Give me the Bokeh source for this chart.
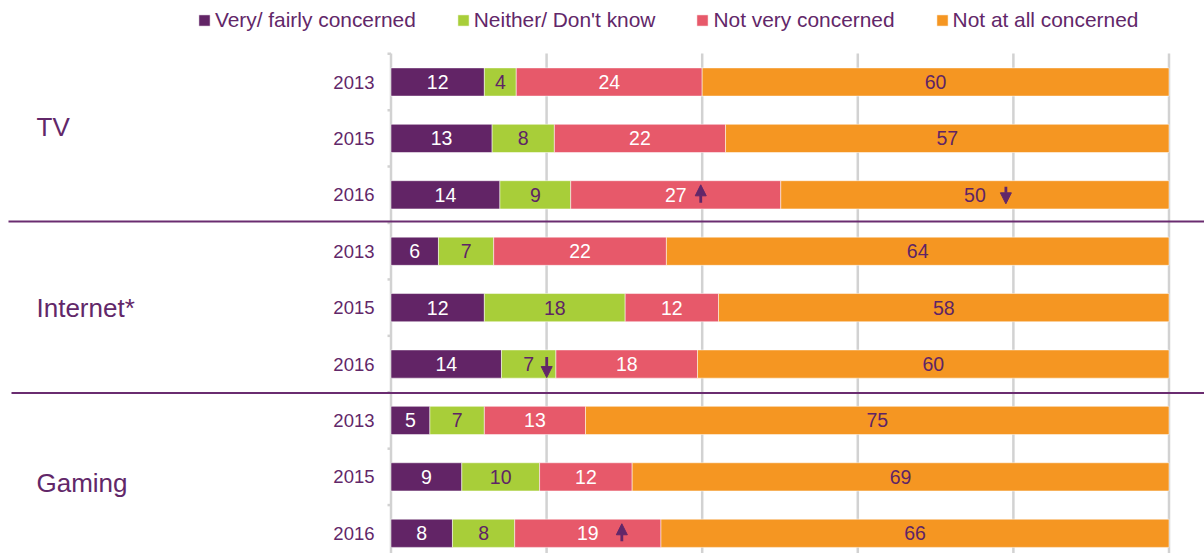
import numpy as np
from bokeh.plotting import figure
from bokeh.models import ColumnDataSource, Range1d, Legend, LegendItem, Arrow, NormalHead
from bokeh.core.properties import value
from bokeh.embed import file_html
from bokeh.resources import INLINE

# ---------------- data ----------------
groups = ["TV", "Internet*", "Gaming"]
years = ["2013", "2015", "2016", "2013", "2015", "2016", "2013", "2015", "2016"]
series = ["Very/ fairly concerned", "Neither/ Don't know", "Not very concerned", "Not at all concerned"]

# segment lengths (% of respondents)
very = [12.0, 13.0, 14.0, 6.1, 12.0, 14.2, 5.0, 9.1, 7.9]
neither = [4.1, 8.0, 9.1, 7.1, 18.1, 7.0, 7.0, 10.0, 8.0]
notvery = [23.9, 22.0, 27.0, 22.2, 12.0, 18.2, 13.0, 11.9, 18.8]
notatall = [60.0, 57.0, 49.9, 64.6, 57.9, 60.6, 75.0, 69.0, 65.3]

# printed (rounded) labels
very_lbl = ["12", "13", "14", "6", "12", "14", "5", "9", "8"]
neither_lbl = ["4", "8", "9", "7", "18", "7", "7", "10", "8"]
notvery_lbl = ["24", "22", "27", "22", "12", "18", "13", "12", "19"]
notatall_lbl = ["60", "57", "50", "64", "58", "60", "75", "69", "66"]

# significant change markers: row index, series index, direction
arrow_rows = [2, 2, 5, 8]
arrow_series = [2, 3, 1, 2]
arrow_dirs = ["up", "down", "down", "up"]

x_ticks = [0, 20, 40, 60, 80, 100]

# ---------------- styles / layout ----------------
COLORS = ["#622466", "#A8CE39", "#E7596A", "#F59622"]
LBL_COLORS = ["white", "#5E2466", "white", "#5E2466"]
TEXT = "#622769"
SEP = "#6A2C70"
GRID = "#D2D2D2"
FONT_NAME = "Liberation Sans"
FONT = value(FONT_NAME)

W, H = 1204, 553
PX_X = 7.78           # px per percentage unit
PX_Y = 56.41          # px per row
X_ZERO_PX = 390.5     # screen x of 0 %
ROW0_PX = 81.5        # screen y of first row centre
x0 = -X_ZERO_PX / PX_X
x1 = x0 + W / PX_X
ytop = -ROW0_PX / PX_Y
ybot = (H - ROW0_PX) / PX_Y

p = figure(width=W, height=H, x_range=Range1d(x0, x1), y_range=Range1d(ybot, ytop),
           output_backend="svg", toolbar_location=None, min_border=0,
           x_axis_location=None, y_axis_location=None, outline_line_color=None)
p.xgrid.visible = False
p.ygrid.visible = False
p.background_fill_color = "white"

rows = list(range(len(years)))

# grid lines and axis ticks
p.segment(x0=x_ticks, y0=[-0.505] * len(x_ticks), x1=x_ticks, y1=[ybot] * len(x_ticks),
          line_color=GRID, line_width=2.5)
tick_y = [r + 0.5 for r in range(-1, len(years) - 1)]
p.segment(x0=[-0.45] * len(tick_y), y0=tick_y, x1=[0] * len(tick_y), y1=tick_y,
          line_color=GRID, line_width=2.5)

# stacked bars
vals = [very, neither, notvery, notatall]
lbls = [very_lbl, neither_lbl, notvery_lbl, notatall_lbl]
cum = np.cumsum(np.array(vals), axis=0)
lefts = np.vstack([np.zeros(len(rows)), cum[:-1]])
renderers = []
centers = []
for k in range(4):
    src = ColumnDataSource(dict(row=rows, left=lefts[k], right=cum[k],
                                cx=(lefts[k] + cum[k]) / 2, lbl=lbls[k]))
    centers.append((lefts[k] + cum[k]) / 2)
    r = p.hbar(y="row", left="left", right="right", height=0.5, source=src,
               fill_color=COLORS[k], line_color="white", line_width=1, line_alpha=0.5)
    renderers.append(r)
    p.text(x="cx", y="row", text="lbl", source=src, text_align="center",
           text_baseline="middle", text_font=FONT, text_font_size="19.5px",
           text_color=LBL_COLORS[k])

# arrows
arrow_dx_px = [25, 31, 18, 34]
arrow_top_px = [-10, -8, -7, -9.5]
arrow_bot_px = [8, 9, 13.5, 8]
ax, ys, ye = [], [], []
for i, (r_, s_, d_) in enumerate(zip(arrow_rows, arrow_series, arrow_dirs)):
    xx = centers[s_][r_] + arrow_dx_px[i] / PX_X
    top = r_ + arrow_top_px[i] / PX_Y
    bot = r_ + arrow_bot_px[i] / PX_Y
    ax.append(xx)
    if d_ == "up":
        ys.append(bot); ye.append(top)
    else:
        ys.append(top); ye.append(bot)
asrc = ColumnDataSource(dict(x=ax, ys=ys, ye=ye))
p.add_layout(Arrow(end=NormalHead(size=11, fill_color=TEXT, line_color=TEXT),
                   x_start="x", y_start="ys", x_end="x", y_end="ye", source=asrc,
                   line_color=TEXT, line_width=2.8))

# year labels
YEAR_X = (374 - X_ZERO_PX) / PX_X
p.text(x=[YEAR_X] * len(rows), y=rows, text=years, text_align="right",
       text_baseline="middle", text_font=FONT, text_font_size="18.5px", text_color=TEXT)

# group labels
GROUP_X = (36 - X_ZERO_PX) / PX_X
group_y = [0.79, 4.0, 7.115]
p.text(x=[GROUP_X] * 3, y=group_y, text=groups, text_align="left",
       text_baseline="middle", text_font=FONT, text_font_size="26px", text_color=TEXT)

# group separators
p.segment(x0=[(8 - X_ZERO_PX) / PX_X, (11 - X_ZERO_PX) / PX_X], y0=[2.475, 5.515],
          x1=[x1 + 5, x1 + 5], y1=[2.475, 5.515], line_color=SEP, line_width=2)

# legend
legend = Legend(items=[LegendItem(label=series[k], renderers=[renderers[k]]) for k in range(4)],
                orientation="horizontal", location=(196.9, H - 32),
                spacing=40, glyph_width=14, glyph_height=14, label_height=14,
                label_standoff=4, padding=0, margin=0,
                background_fill_alpha=0, border_line_alpha=0,
                label_text_font=FONT_NAME, label_text_font_size="20.9px", label_text_color=TEXT)
p.add_layout(legend)

open("out.html", "w").write(file_html(p, INLINE))
